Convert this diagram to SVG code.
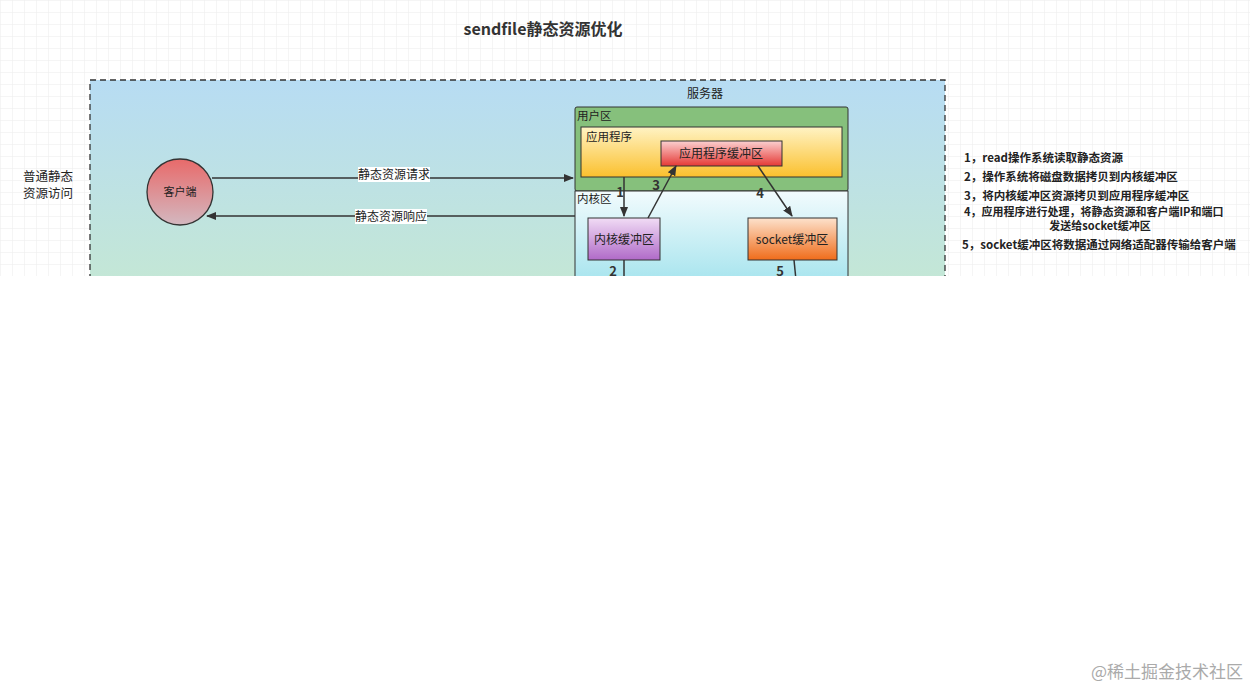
<svg xmlns="http://www.w3.org/2000/svg" width="1250" height="690" viewBox="0 0 1250 690">
<defs>
<style>
text{font-family:"Noto Sans CJK SC","Liberation Sans",sans-serif;fill:#222}
.c{stroke:#333;stroke-width:1.5;fill:none}
.lbl{font-size:12px;text-anchor:middle}
.n{font-size:13px;font-weight:bold;text-anchor:middle;fill:#333}
.s{font-size:11.5px}
</style>
<pattern id="grid" width="12" height="12" patternUnits="userSpaceOnUse"><path d="M12 0H0V12" fill="none" stroke="#ececec" stroke-width="1"/></pattern>
<linearGradient id="bg" x1="0" y1="0" x2="0" y2="1"><stop offset="0" stop-color="#b7dcf3"/><stop offset="1" stop-color="#c5e8d3"/></linearGradient>
<linearGradient id="cl" x1="0" y1="0" x2="0" y2="1"><stop offset="0" stop-color="#e86a6a"/><stop offset="1" stop-color="#d3b8c0"/></linearGradient>
<linearGradient id="app" x1="0" y1="0" x2="0" y2="1"><stop offset="0" stop-color="#fff3c4"/><stop offset="1" stop-color="#fbc02d"/></linearGradient>
<linearGradient id="abuf" x1="0" y1="0" x2="0" y2="1"><stop offset="0" stop-color="#fbd0d0"/><stop offset="1" stop-color="#e53935"/></linearGradient>
<linearGradient id="kz" x1="0" y1="0" x2="0" y2="1"><stop offset="0" stop-color="#f2fbfd"/><stop offset="1" stop-color="#8fdde9"/></linearGradient>
<linearGradient id="kb" x1="0" y1="0" x2="0" y2="1"><stop offset="0" stop-color="#f1dcf5"/><stop offset="1" stop-color="#b06ac8"/></linearGradient>
<linearGradient id="sb" x1="0" y1="0" x2="0" y2="1"><stop offset="0" stop-color="#fde2cc"/><stop offset="1" stop-color="#ef6c1a"/></linearGradient>
<marker id="ar" viewBox="0 0 10 10" refX="9" refY="5" markerWidth="7" markerHeight="7" orient="auto"><path d="M0 1L10 5L0 9z" fill="#333"/></marker>
<clipPath id="cut"><rect x="0" y="0" width="1250" height="276"/></clipPath>
</defs>
<rect width="1250" height="690" fill="#fff"/>
<g clip-path="url(#cut)">
<rect width="1250" height="276" fill="url(#grid)"/>
<text x="543" y="35" class="n" style="font-size:16px">sendfile静态资源优化</text>
<text x="48" y="181" class="lbl" style="font-size:12.5px">普通静态</text>
<text x="48" y="198" class="lbl" style="font-size:12.5px">资源访问</text>
<g id="server"><rect x="90" y="80" width="855" height="220" fill="url(#bg)" stroke="#333" stroke-width="1.3" stroke-dasharray="6 4"/>
<text x="705" y="98" class="lbl">服务器</text></g>
<g id="userzone"><rect x="575" y="107" width="273" height="84" fill="#86c07c" stroke="#333" rx="2"/><text x="577" y="120" class="s">用户区</text></g>
<g id="app"><rect x="581" y="127" width="261" height="50" fill="url(#app)" stroke="#333"/><text x="586" y="141" class="s">应用程序</text></g>
<g id="appbuf"><rect x="661" y="141" width="121" height="25" fill="url(#abuf)" stroke="#333"/><text x="721" y="158" class="lbl">应用程序缓冲区</text></g>
<g id="kernelzone"><rect x="575" y="191" width="273" height="120" fill="url(#kz)" stroke="#333"/><text x="577" y="203" class="s">内核区</text></g>
<g id="kbuf"><rect x="588" y="218" width="72" height="42" fill="url(#kb)" stroke="#333"/><text x="624" y="244" class="lbl">内核缓冲区</text></g>
<g id="sbuf"><rect x="748" y="218" width="89" height="42" fill="url(#sb)" stroke="#333"/><text x="792" y="244" class="lbl">socket缓冲区</text></g>
<g id="client"><circle cx="180" cy="192" r="33" fill="url(#cl)" stroke="#333" stroke-width="1.3"/><text x="180" y="196" class="lbl" style="font-size:11px">客户端</text></g>
<g id="connectors">
<path class="c" d="M212 178H573" marker-end="url(#ar)"/>
<path class="c" d="M575 216H207" marker-end="url(#ar)"/>
<path class="c" d="M624 177V216" marker-end="url(#ar)"/>
<path class="c" d="M648 218L676 166" marker-end="url(#ar)"/>
<path class="c" d="M758 166L792 216" marker-end="url(#ar)"/>
<path class="c" d="M624 260V290"/>
<path class="c" d="M794 260L797 290"/>
<rect x="358" y="167" width="72" height="15" fill="#fff"/><text x="394" y="179" class="lbl">静态资源请求</text>
<rect x="355" y="209" width="72" height="15" fill="#fff"/><text x="391" y="221" class="lbl">静态资源响应</text>
<text x="620" y="197" class="n">1</text><text x="656" y="190" class="n">3</text><text x="760" y="198" class="n">4</text>
<text x="613" y="276" class="n">2</text><text x="780" y="276" class="n">5</text>
</g>
<g id="notes">
<text x="964" y="162" class="s" font-weight="bold">1，read操作系统读取静态资源</text>
<text x="964" y="181" class="s" font-weight="bold">2，操作系统将磁盘数据拷贝到内核缓冲区</text>
<text x="964" y="200" class="s" font-weight="bold">3，将内核缓冲区资源拷贝到应用程序缓冲区</text>
<text x="964" y="216" class="s" font-weight="bold" style="font-size:11px">4，应用程序进行处理，将静态资源和客户端IP和端口</text>
<text x="1100" y="230" class="s" font-weight="bold" text-anchor="middle" style="font-size:11px">发送给socket缓冲区</text>
<text x="962" y="249" class="s" font-weight="bold">5，socket缓冲区将数据通过网络适配器传输给客户端</text>
</g>
</g>
<text x="1243" y="678" text-anchor="end" style="font-size:17px;fill:#aaa">@稀土掘金技术社区</text>
</svg>
